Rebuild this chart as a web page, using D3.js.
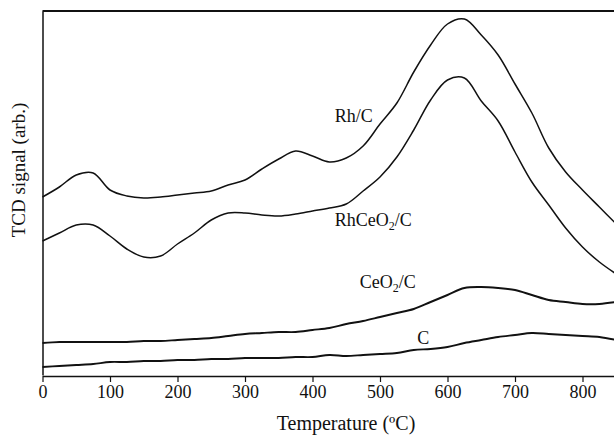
<!DOCTYPE html>
<html lang="en">
<head>
    <meta charset="UTF-8">
    <title>TPR profiles</title>
    <style>
        body { margin: 0; background: #fff; }
        text { font-family: "Liberation Serif", "Times New Roman", serif; fill: #111; }
    </style>
</head>
<body>

    <svg id="svg" width="614" height="435"></svg>

    <script src="https://d3js.org/d3.v7.min.js"></script>
    <script>
        // temperature grid (ºC) the curves were read at
        const temps = [0, 25, 50, 75, 100, 125, 150, 175, 200, 225, 250, 275, 300, 325, 350, 375, 400,
            425, 450, 475, 500, 525, 550, 575, 600, 625, 650, 675, 700, 725, 750, 775, 800, 825, 850]

        // TCD signal, arbitrary units (curves are offset as in the figure)
        const rhC = [1.78, 1.88, 2.00, 2.02, 1.85, 1.79, 1.77, 1.78, 1.80, 1.82, 1.84, 1.90, 1.95, 2.06, 2.16, 2.24, 2.19,
            2.13, 2.17, 2.29, 2.51, 2.72, 3.03, 3.30, 3.51, 3.56, 3.40, 3.20, 2.91, 2.62, 2.27, 2.03, 1.85, 1.68, 1.51]
        const rhCeO2C = [1.34, 1.42, 1.50, 1.50, 1.39, 1.26, 1.18, 1.19, 1.31, 1.42, 1.55, 1.62, 1.62, 1.60, 1.59, 1.61, 1.64,
            1.67, 1.71, 1.84, 1.98, 2.18, 2.45, 2.75, 2.95, 2.97, 2.74, 2.54, 2.23, 1.93, 1.70, 1.47, 1.28, 1.13, 1.01]
        const ceO2C = [0.32, 0.33, 0.33, 0.33, 0.33, 0.33, 0.34, 0.34, 0.35, 0.36, 0.37, 0.39, 0.41, 0.42, 0.43, 0.43, 0.45,
            0.47, 0.51, 0.54, 0.58, 0.62, 0.66, 0.73, 0.80, 0.87, 0.88, 0.87, 0.85, 0.80, 0.75, 0.73, 0.71, 0.71, 0.73]
        const carbon = [0.08, 0.09, 0.10, 0.11, 0.13, 0.13, 0.14, 0.14, 0.15, 0.15, 0.16, 0.16, 0.17, 0.17, 0.17, 0.18, 0.18,
            0.20, 0.19, 0.20, 0.21, 0.22, 0.25, 0.26, 0.28, 0.32, 0.35, 0.38, 0.40, 0.42, 0.41, 0.40, 0.39, 0.38, 0.35]

        const xTicks = [0, 100, 200, 300, 400, 500, 600, 700, 800]

        // label text: [before subscript, subscript, after]
        const seriesLabels = [['Rh/C', '', ''], ['RhCeO', '2', '/C'], ['CeO', '2', '/C'], ['C', '', '']]
        const labelAt = [[433, 2.53], [433, 1.49], [470, 0.87], [555, 0.31]]

        const series = [rhC, rhCeO2C, ceO2C, carbon]

        const xScale = d3.scaleLinear()
            .domain([0, 850])
            .range([42.5, 616.25])

        const yScale = d3.scaleLinear()
            .domain([0, 3.64])
            .range([375, 11])

        const svg = d3.select('#svg')

        // curves (the two flat ones look heavier in the original because of the noise)
        const line = d3.line()
            .x((d, i) => xScale(temps[i]))
            .y(d => yScale(d))
            .curve(d3.curveCatmullRom.alpha(0.5))

        svg.selectAll('path.curve')
            .data(series)
            .enter()
            .append('path')
            .attr('class', 'curve')
            .attr('d', d => line(d))
            .attr('fill', 'none')
            .attr('stroke', '#111')
            .attr('stroke-width', (d, i) => i < 2 ? 1.5 : 1.9)

        // x axis
        const xAxis = svg.append('g')
            .attr('transform', `translate(0, ${yScale(0) + 1})`)
            .call(d3.axisBottom(xScale).tickValues(xTicks).tickSize(6).tickSizeOuter(0).tickPadding(3))
        xAxis.select('.domain').attr('stroke', '#111').attr('stroke-width', 1.5)
        xAxis.selectAll('.tick line').attr('stroke', '#111').attr('stroke-width', 1.2)
        xAxis.selectAll('.tick text')
            .style('font-family', '"Liberation Serif", "Times New Roman", serif')
            .style('font-size', '18px')
            .attr('fill', '#111')

        // left axis, no ticks
        svg.append('g')
            .attr('transform', `translate(${xScale(0)}, 0)`)
            .call(d3.axisLeft(yScale).tickValues([]).tickSizeOuter(0))
            .select('.domain')
            .attr('stroke', '#111')
            .attr('stroke-width', 1.5)

        // top frame line
        svg.append('line')
            .attr('x1', xScale(0))
            .attr('x2', xScale(850))
            .attr('y1', yScale(3.64))
            .attr('y2', yScale(3.64))
            .attr('stroke', '#111')
            .attr('stroke-width', 1.8)

        // series labels
        const labels = svg.selectAll('text.lbl')
            .data(seriesLabels)
            .enter()
            .append('text')
            .attr('class', 'lbl')
            .attr('x', (d, i) => xScale(labelAt[i][0]))
            .attr('y', (d, i) => yScale(labelAt[i][1]))
            .style('font-size', '18px')

        labels.append('tspan').text(d => d[0])
        labels.filter(d => d[1] !== '')
            .append('tspan')
            .attr('dy', 4)
            .style('font-size', '12px')
            .text(d => d[1])
        labels.filter(d => d[2] !== '')
            .append('tspan')
            .attr('dy', -4)
            .text(d => d[2])

        // axis titles
        svg.append('text')
            .text('Temperature (ºC)')
            .attr('x', 346)
            .attr('y', 430)
            .attr('text-anchor', 'middle')
            .style('font-size', '20px')

        svg.append('text')
            .text('TCD signal (arb.)')
            .attr('transform', 'translate(25, 170) rotate(-90)')
            .attr('text-anchor', 'middle')
            .style('font-size', '19px')
    </script>
</body>
</html>
